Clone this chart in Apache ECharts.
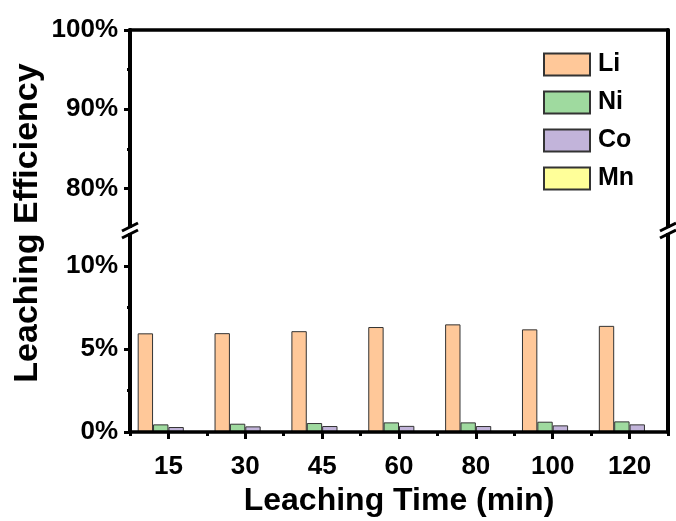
<!DOCTYPE html>
<html>
<head>
<meta charset="utf-8">
<script src="https://cdn.jsdelivr.net/npm/echarts@6/dist/echarts.min.js"></script>
<style>
  html, body { margin: 0; padding: 0; background: #fff; }
  #chart { width: 676px; height: 521px; }
</style>
</head>
<body>
<div id="chart"></div>
<script>
// Leaching time (min) categories
const categories = ['15', '30', '45', '60', '80', '100', '120'];

// Leaching efficiency (%) per metal
const liValues = [5.95, 5.96, 6.08, 6.33, 6.49, 6.19, 6.40];
const niValues = [0.46, 0.50, 0.54, 0.58, 0.58, 0.62, 0.64];
const coValues = [0.30, 0.34, 0.36, 0.37, 0.36, 0.40, 0.46];
const mnValues = [0, 0, 0, 0, 0, 0, 0];

// Broken y axis: upper and lower segments
const upperRange = [75, 100];
const lowerRange = [0, 12];
const upperTicks = [80, 90, 100];
const upperMinorTicks = [85, 95];
const lowerTicks = [0, 5, 10];
const lowerMinorTicks = [2.5, 7.5];

const FONT = '"Liberation Sans", Arial, Helvetica, sans-serif';
const INK = '#000';

// Layout
const LEFT = 130, RIGHT_X = 668;
const UP_TOP = 30, UP_H = 198;
const LO_TOP = 233, LO_H = 199;

const chart = echarts.init(document.getElementById('chart'), null, { renderer: 'canvas' });

function frameLine(width) {
  return { show: true, onZero: false, lineStyle: { color: INK, width: width } };
}

function majorYAxis(grid, range, ticks) {
  return {
    type: 'value', gridIndex: grid, position: 'left',
    min: range[0], max: range[1],
    splitLine: { show: false },
    axisLine: frameLine(4),
    axisTick: { show: true, customValues: ticks, length: 6, lineStyle: { color: INK, width: 3 } },
    axisLabel: {
      customValues: ticks, formatter: '{value}%', margin: 12,
      color: INK, fontFamily: FONT, fontWeight: 'bold', fontSize: 26
    }
  };
}
function minorYAxis(grid, range, ticks) {
  return {
    type: 'value', gridIndex: grid, position: 'left',
    min: range[0], max: range[1],
    splitLine: { show: false },
    axisLine: frameLine(4),
    axisTick: { show: true, customValues: ticks, length: 3, lineStyle: { color: INK, width: 3 } },
    axisLabel: { show: false }
  };
}
function rightYAxis(grid, range) {
  return {
    type: 'value', gridIndex: grid, position: 'right',
    min: range[0], max: range[1],
    splitLine: { show: false },
    axisLine: frameLine(4),
    axisTick: { show: false },
    axisLabel: { show: false }
  };
}

function barSeries(name, data, color) {
  return {
    name: name, type: 'bar', xAxisIndex: 1, yAxisIndex: 3,
    data: data,
    barGap: '0%', barCategoryGap: '20%',
    itemStyle: { color: color, borderColor: '#333', borderWidth: 1 }
  };
}

// Frame: left edge of the lower panel, plus break marks on both vertical axes
const frameMarks = [{
  type: 'line', z: 200,
  shape: { x1: LEFT, y1: LO_TOP, x2: LEFT, y2: LO_TOP + LO_H + 2 },
  style: { stroke: INK, lineWidth: 4 }
}];
[LEFT, RIGHT_X].forEach(function (x) {
  frameMarks.push({
    type: 'rect', z: 210,
    shape: { x: x - 3, y: UP_TOP + UP_H, width: 6, height: LO_TOP - UP_TOP - UP_H },
    style: { fill: '#fff' }
  });
  [UP_TOP + UP_H - 1, LO_TOP + 1].forEach(function (yc) {
    frameMarks.push({
      type: 'line', z: 211,
      shape: { x1: x - 8, y1: yc + 4, x2: x + 8, y2: yc - 4 },
      style: { stroke: INK, lineWidth: 3 }
    });
  });
});

const option = {
  backgroundColor: '#fff',
  animation: false,
  grid: [
    { left: LEFT, width: RIGHT_X - LEFT, top: UP_TOP, height: UP_H },
    { left: LEFT, width: RIGHT_X - LEFT, top: LO_TOP, height: LO_H }
  ],
  legend: {
    left: 543, top: 52, orient: 'vertical', padding: 0,
    itemWidth: 46, itemHeight: 22, itemGap: 13,
    icon: 'rect',
    textStyle: { color: INK, fontFamily: FONT, fontWeight: 'bold', fontSize: 25, lineHeight: 22, padding: [0, 0, 0, 3] },
    data: ['Li', 'Ni', 'Co', 'Mn']
  },
  xAxis: [
    {
      type: 'category', gridIndex: 0, position: 'top', data: categories,
      axisLine: frameLine(3.5),
      axisTick: { show: false }, axisLabel: { show: false }
    },
    {
      type: 'category', gridIndex: 1, position: 'bottom', data: categories, z: 5,
      axisLine: frameLine(3.5),
      axisTick: { show: true, alignWithLabel: true, length: 7, lineStyle: { color: INK, width: 3 } },
      axisLabel: { color: INK, fontFamily: FONT, fontWeight: 'bold', fontSize: 26, margin: 22 },
      name: 'Leaching Time (min)', nameLocation: 'middle', nameGap: 53,
      nameTextStyle: { color: INK, fontFamily: FONT, fontWeight: 'bold', fontSize: 32 }
    },
    {
      type: 'category', gridIndex: 1, position: 'bottom', data: categories, z: 5,
      axisLine: { show: false, onZero: false },
      axisTick: { show: true, alignWithLabel: false, length: 4, lineStyle: { color: INK, width: 3 } },
      axisLabel: { show: false }
    }
  ],
  yAxis: [
    majorYAxis(0, upperRange, upperTicks),
    minorYAxis(0, upperRange, upperMinorTicks),
    rightYAxis(0, upperRange),
    majorYAxis(1, lowerRange, lowerTicks),
    minorYAxis(1, lowerRange, lowerMinorTicks),
    rightYAxis(1, lowerRange)
  ],
  series: [
    barSeries('Li', liValues, '#FFC899'),
    barSeries('Ni', niValues, '#9FDA9F'),
    barSeries('Co', coValues, '#C2B4DA'),
    barSeries('Mn', mnValues, '#FFFF99')
  ],
  graphic: frameMarks.concat([
    {
      type: 'text', x: 28, y: 223, rotation: Math.PI / 2,
      style: {
        text: 'Leaching Efficiency', fill: INK,
        font: 'bold 34px ' + FONT, align: 'center', verticalAlign: 'middle'
      }
    }
  ])
};

chart.setOption(option);
</script>
</body>
</html>
